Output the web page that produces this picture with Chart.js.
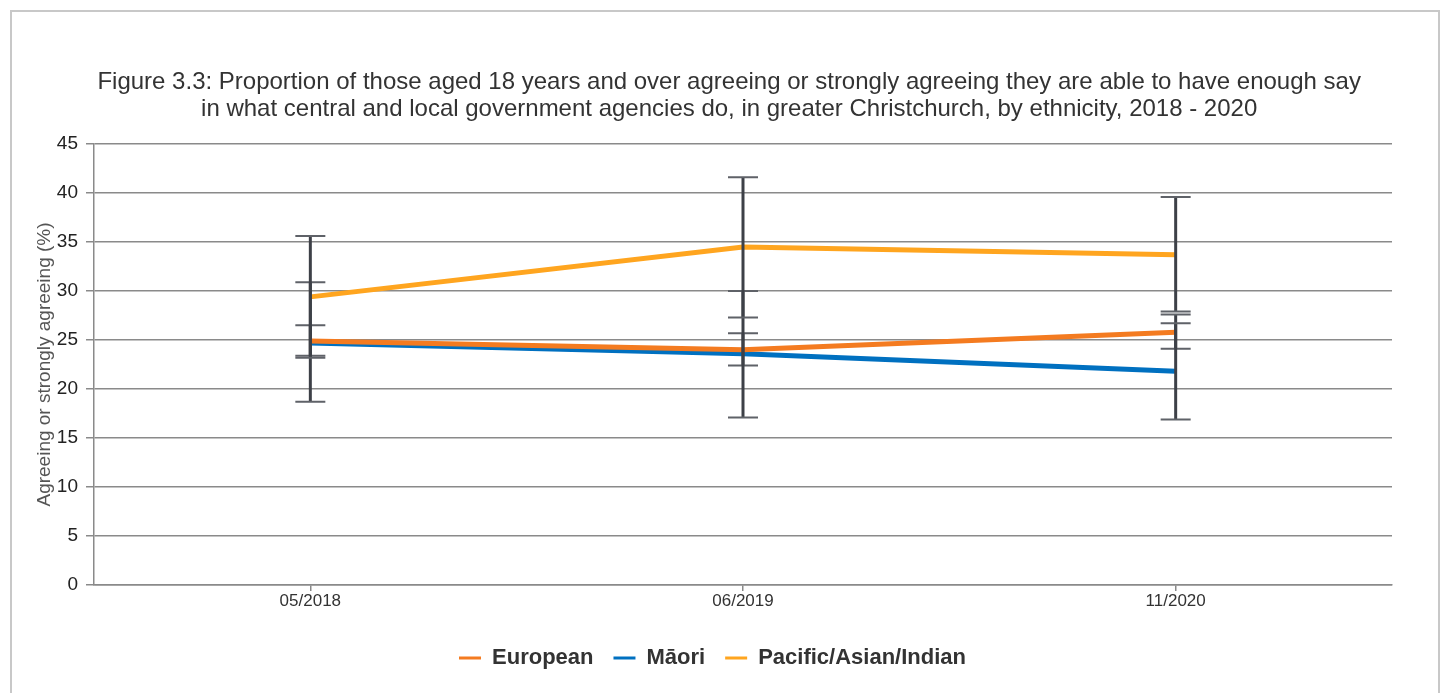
<!DOCTYPE html>
<html>
<head>
<meta charset="utf-8">
<script src="https://cdn.jsdelivr.net/npm/chart.js@4"></script>
<style>
  body { margin: 0; background: #fff; }
  #frame { position: absolute; left: 10px; top: 10px; width: 1426px; height: 700px; border: 2px solid #c8c8c8; }
  #wrap { position: absolute; left: 0; top: 0; width: 1445px; height: 693px; }
</style>
</head>
<body>
<div id="frame"></div>
<div id="wrap"><canvas id="grafico"></canvas></div>
<script>
// Periodi dell'indagine
const periodi = ["05/2018", "06/2019", "11/2020"];

// Valori (%) per etnia
const european = [24.9, 24.0, 25.8];
const maori = [24.7, 23.6, 21.8];
const pacific = [29.4, 34.5, 33.7];

// Intervalli di confidenza (basso / alto)
const europeanLow = [23.4, 22.4, 24.1];
const europeanHigh = [26.5, 25.7, 27.6];
const maoriLow = [18.7, 17.1, 16.9];
const maoriHigh = [30.9, 30.0, 26.7];
const pacificLow = [23.2, 27.3, 27.9];
const pacificHigh = [35.6, 41.6, 39.6];

const yTicks = [0, 5, 10, 15, 20, 25, 30, 35, 40, 45];

// Barre d'errore disegnate sopra le linee
const barreErrore = {
    id: "barreErrore",
    afterDatasetsDraw(chart) {
        const { ctx, scales: { x, y } } = chart;
        ctx.save();
        chart.data.datasets.forEach(ds => {
            ds.low.forEach((lo, i) => {
                const px = x.getPixelForValue(i);
                const yLo = y.getPixelForValue(lo);
                const yHi = y.getPixelForValue(ds.high[i]);
                ctx.strokeStyle = "#3d4047";
                ctx.lineWidth = 3;
                ctx.beginPath();
                ctx.moveTo(px, yLo);
                ctx.lineTo(px, yHi);
                ctx.stroke();
                ctx.strokeStyle = "#5f6268";
                ctx.lineWidth = 2;
                ctx.beginPath();
                ctx.moveTo(px - 15, yLo);
                ctx.lineTo(px + 15, yLo);
                ctx.moveTo(px - 15, yHi);
                ctx.lineTo(px + 15, yHi);
                ctx.stroke();
            });
        });
        ctx.restore();
    }
};

// piccolo spostamento a destra del titolo (come nell'originale)
const rientro = "\u00a0\u00a0\u00a0\u00a0\u00a0";

const ctx = document.getElementById("grafico").getContext("2d");
new Chart(ctx, {
    type: "line",
    data: {
        labels: periodi,
        datasets: [
            { label: "European", data: european, low: europeanLow, high: europeanHigh,
              borderColor: "#f47b20", backgroundColor: "#f47b20", borderWidth: 5 },
            { label: "M\u0101ori", data: maori, low: maoriLow, high: maoriHigh,
              borderColor: "#0070c0", backgroundColor: "#0070c0", borderWidth: 5 },
            { label: "Pacific/Asian/Indian", data: pacific, low: pacificLow, high: pacificHigh,
              borderColor: "#ffa51f", backgroundColor: "#ffa51f", borderWidth: 5 }
        ]
    },
    options: {
        responsive: true,
        maintainAspectRatio: false,
        animation: false,
        elements: {
            line: { tension: 0 },
            point: { radius: 0, hoverRadius: 0 }
        },
        layout: { padding: { top: 69, left: 33, right: 53, bottom: 14 } },
        scales: {
            x: {
                offset: true,
                afterFit: s => { s.height = 42; },
                grid: { drawOnChartArea: false, drawTicks: true, tickLength: 6, color: "#8a8a8a", lineWidth: 1.5 },
                border: { color: "#8a8a8a", width: 1.5 },
                ticks: { color: "#333", font: { family: "Liberation Sans", size: 17 }, padding: 0 }
            },
            y: {
                min: 0,
                max: 45,
                afterFit: s => { s.width = 61; },
                afterBuildTicks: axis => { axis.ticks = yTicks.map(v => ({ value: v })); },
                grid: { color: "#8a8a8a", lineWidth: 1.5, tickLength: 8 },
                border: { color: "#8a8a8a", width: 1.5 },
                ticks: { color: "#222", font: { family: "Liberation Sans", size: 19 }, padding: 8 },
                title: {
                    display: true,
                    text: "Agreeing or strongly agreeing (%)",
                    color: "#555",
                    font: { family: "Liberation Sans", size: 19 },
                    padding: 0
                }
            }
        },
        plugins: {
            title: {
                display: true,
                text: [
                    rientro + "Figure 3.3: Proportion of those aged 18 years and over agreeing or strongly agreeing they are able to have enough say",
                    rientro + "in what central and local government agencies do, in greater Christchurch, by ethnicity, 2018 - 2020"
                ],
                color: "#333",
                font: { family: "Liberation Sans", size: 24, weight: "normal", lineHeight: 1.125 },
                padding: { top: 0, bottom: 21 }
            },
            legend: {
                position: "bottom",
                labels: {
                    usePointStyle: true,
                    pointStyle: "line",
                    pointStyleWidth: 22,
                    padding: 20,
                    color: "#333",
                    font: { family: "Liberation Sans", size: 22, weight: "bold" },
                    generateLabels: chart => Chart.defaults.plugins.legend.labels.generateLabels(chart)
                        .map(l => Object.assign(l, { lineWidth: 3 }))
                }
            },
            tooltip: { enabled: false }
        }
    },
    plugins: [barreErrore]
});
</script>
</body>
</html>
